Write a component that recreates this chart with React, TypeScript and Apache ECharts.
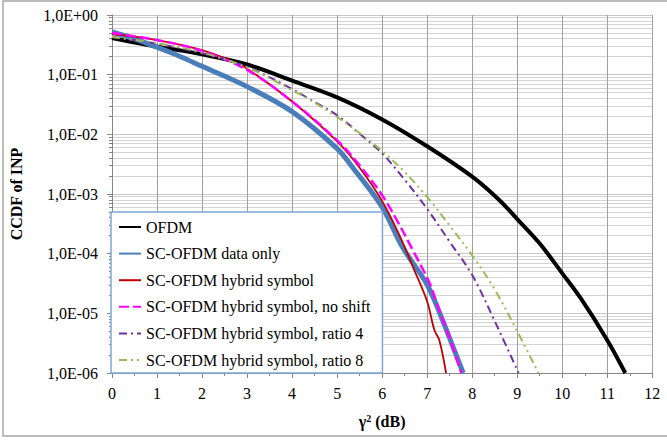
import React, { useEffect, useRef } from "react";
import * as echarts from "echarts";

const seriesNames = [
  "OFDM",
  "SC-OFDM data only",
  "SC-OFDM hybrid symbol",
  "SC-OFDM hybrid symbol, no shift",
  "SC-OFDM hybrid symbol, ratio 4",
  "SC-OFDM hybrid symbol, ratio 8",
];

const xOFDM = [0, 0.5, 1, 2, 3, 4, 5, 6, 7, 8, 8.6, 9, 9.5, 10, 10.42, 11, 11.4];
const yOFDM = [0.412, 0.347, 0.295, 0.219, 0.148, 0.0794, 0.0417, 0.0178, 0.00631, 0.00195, 7.94e-4, 3.8e-4, 1.48e-4, 4.68e-5, 1.74e-5, 3.55e-6, 1.0e-6];

const xData = [0, 0.5, 1, 1.5, 2, 3, 4, 5, 5.35, 6, 6.45, 7, 7.34, 7.49, 7.8];
const yData = [0.519, 0.398, 0.288, 0.204, 0.138, 0.063, 0.024, 0.00575, 0.00275, 6.03e-4, 1.29e-4, 3.02e-5, 7.76e-6, 3.98e-6, 1.0e-6];

const xHybrid = [0, 1, 2, 2.68, 3, 4, 5, 5.5, 6, 6.4, 6.7, 7, 7.16, 7.27, 7.42];
const yHybrid = [0.479, 0.38, 0.257, 0.166, 0.126, 0.0355, 0.00759, 0.00275, 7.59e-4, 1.91e-4, 5.62e-5, 1.58e-5, 5.25e-6, 3.55e-6, 1.0e-6];

const xNoShift = [0, 1, 2, 3, 4, 5, 5.5, 6, 6.32, 6.68, 7.05, 7.2, 7.34, 7.49, 7.76];
const yNoShift = [0.501, 0.38, 0.251, 0.12, 0.0355, 0.00794, 0.00302, 9.55e-4, 3.72e-4, 1.15e-4, 3.24e-5, 1.58e-5, 7.94e-6, 3.98e-6, 1.0e-6];

const xRatio4 = [0, 1, 2, 3, 4, 4.5, 5, 5.5, 6, 6.5, 7, 7.5, 8, 8.5, 9.03];
const yRatio4 = [0.427, 0.331, 0.229, 0.135, 0.0575, 0.0347, 0.0209, 0.0102, 0.00479, 0.00174, 5.62e-4, 1.58e-4, 4.37e-5, 7.41e-6, 1.0e-6];

const xRatio8 = [0, 1, 2, 3, 4, 4.5, 5, 5.5, 6, 6.5, 7, 7.5, 8, 8.5, 9, 9.47];
const yRatio8 = [0.427, 0.339, 0.234, 0.132, 0.055, 0.0339, 0.0195, 0.0105, 0.00525, 0.00234, 8.91e-4, 2.95e-4, 9.33e-5, 2.51e-5, 5.01e-6, 1.0e-6];

const xTicks = { min: 0, max: 12, interval: 1 };
const yRange = { min: 1e-6, max: 1 };

const FONT = "Times New Roman, Liberation Serif, serif";

function pairs(xs: number[], ys: number[]) {
  return xs.map((x, i) => [x, ys[i]]);
}

function fmtE(v: number) {
  const e = Math.round(Math.log10(v));
  const a = Math.abs(e);
  return "1,0E" + (e < 0 ? "-" : "+") + (a < 10 ? "0" + a : String(a));
}

export default function App() {
  const ref = useRef<HTMLDivElement>(null);
  useEffect(() => {
    if (!ref.current) return;
    const chart = echarts.init(ref.current, undefined, { renderer: "svg" });
    const styles = [
      { color: "#000000", width: 4, type: "solid" as any },
      { color: "#4A7EBB", width: 5, type: "solid" as any },
      { color: "#C00000", width: 1.8, type: "solid" as any },
      { color: "#FF00FF", width: 2.5, type: [10, 4] as any },
      { color: "#7030A0", width: 2, type: [8, 4, 2, 4] as any },
      { color: "#9BBB59", width: 2, type: [8, 4, 2, 4, 2, 4] as any },
    ];
    const datasets = [
      pairs(xOFDM, yOFDM),
      pairs(xData, yData),
      pairs(xHybrid, yHybrid),
      pairs(xNoShift, yNoShift),
      pairs(xRatio4, yRatio4),
      pairs(xRatio8, yRatio8),
    ];
    chart.setOption({
      animation: false,
      backgroundColor: "#ffffff",
      textStyle: { fontFamily: FONT },
      graphic: [
        {
          type: "rect",
          shape: { x: 3, y: 1, width: 700, height: 435 },
          style: { fill: "none", stroke: "#a6a6a6", lineWidth: 1.5 },
          silent: true,
          z: -1,
        },
      ],
      grid: { left: 112, right: 14.7, top: 15, bottom: 68 },
      xAxis: {
        type: "value",
        min: xTicks.min,
        max: xTicks.max,
        interval: xTicks.interval,
        name: "{a|γ}{b|2}{a| (dB)}",
        nameLocation: "middle",
        nameGap: 40,
        nameTextStyle: {
          fontFamily: FONT,
          rich: {
            a: { fontFamily: FONT, fontSize: 16, fontWeight: "bold", color: "#000" },
            b: { fontFamily: FONT, fontSize: 10, fontWeight: "bold", color: "#000", padding: [0, 0, 7, 0] },
          },
        },
        axisLine: { show: true, lineStyle: { color: "#868686", width: 1 } },
        axisTick: { show: true, inside: false, length: 5, lineStyle: { color: "#868686" } },
        minorTick: { show: true, splitNumber: 2, length: 3, lineStyle: { color: "#868686" } },
        axisLabel: { fontFamily: FONT, fontSize: 16, color: "#000", margin: 12 },
        splitLine: { show: true, lineStyle: { color: "#a0a0a0", width: 1 } },
      },
      yAxis: {
        type: "log",
        logBase: 10,
        min: yRange.min,
        max: yRange.max,
        interval: 1,
        name: "CCDF of INP",
        nameLocation: "middle",
        nameGap: 88,
        nameTextStyle: { fontFamily: FONT, fontSize: 16, fontWeight: "bold", color: "#000" },
        axisLine: { show: true, lineStyle: { color: "#868686", width: 1 } },
        axisTick: { show: true, inside: false, length: 5, lineStyle: { color: "#868686" } },
        minorTick: { show: true, splitNumber: 9, length: 3, lineStyle: { color: "#868686" } },
        axisLabel: { fontFamily: FONT, fontSize: 16, color: "#000", margin: 14, formatter: (v: number) => fmtE(v) },
        splitLine: { show: true, lineStyle: { color: "#c8c8c8", width: 1 } },
        minorSplitLine: { show: true, lineStyle: { color: "#d4d4d4", width: 1 } },
      },
      legend: {
        orient: "vertical",
        left: 111,
        top: 212,
        padding: [7, 12, 5, 7],
        itemGap: 10.6,
        itemWidth: 22,
        itemHeight: 14,
        itemStyle: { opacity: 0 },
        backgroundColor: "#ffffff",
        borderColor: "#7EA6D8",
        borderWidth: 1.5,
        borderRadius: 0,
        textStyle: { fontFamily: FONT, fontSize: 16, color: "#000", lineHeight: 16 },
        data: seriesNames,
      },
      series: seriesNames.map((name, i) => ({
        name,
        type: "line",
        data: datasets[i],
        symbol: "none",
        showSymbol: false,
        smooth: 0.35,
        lineStyle: styles[i],
        itemStyle: { color: styles[i].color },
        z: 2,
      })),
    });
    return () => chart.dispose();
  }, []);
  return (
    <div
      ref={ref}
      style={{ position: "fixed", left: 0, top: 0, width: 667, height: 441 }}
    />
  );
}
